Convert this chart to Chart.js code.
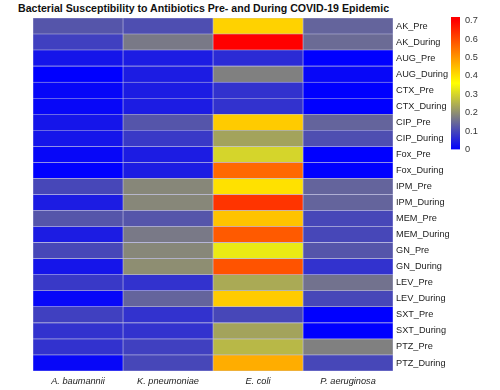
<!DOCTYPE html>
<html>
<head>
<meta charset="utf-8">
<script src="https://cdn.jsdelivr.net/npm/chart.js@4/dist/chart.umd.min.js"></script>
<style>
  html, body { margin: 0; padding: 0; background: #fff; }
  #wrap { position: relative; width: 500px; height: 390px; overflow: hidden; }
  #title { position: absolute; left: 18px; top: 2px; font: bold 10.6px 'Liberation Sans', Arial, sans-serif; color: #111; white-space: nowrap; }
  #heat { position: absolute; left: 0; top: 0; }
  #scale { position: absolute; left: 440px; top: 0; }
</style>
</head>
<body>
<div id="wrap">
  <div id="title">Bacterial Susceptibility to Antibiotics Pre- and During COVID-19 Epidemic</div>
  <canvas id="heat" width="500" height="390"></canvas>
  <canvas id="scale" width="60" height="160"></canvas>
</div>
<script>
// rows, top to bottom
const rowLabels = ['AK_Pre', 'AK_During', 'AUG_Pre', 'AUG_During', 'CTX_Pre', 'CTX_During', 'CIP_Pre', 'CIP_During',
  'Fox_Pre', 'Fox_During', 'IPM_Pre', 'IPM_During', 'MEM_Pre', 'MEM_During', 'GN_Pre', 'GN_During',
  'LEV_Pre', 'LEV_During', 'SXT_Pre', 'SXT_During', 'PTZ_Pre', 'PTZ_During'];
const speciesLabels = ['A. baumannii', 'K. pneumoniae', 'E. coli', 'P. aeruginosa'];

const baumannii  = [0.12, 0.09, 0.03, 0.00, 0.01, 0.01, 0.03, 0.03, 0.01, 0.00, 0.10, 0.04, 0.12, 0.04, 0.10, 0.03, 0.08, 0.01, 0.09, 0.07, 0.07, 0.01];
const pneumoniae = [0.11, 0.17, 0.04, 0.04, 0.04, 0.04, 0.12, 0.08, 0.04, 0.04, 0.19, 0.19, 0.12, 0.17, 0.19, 0.20, 0.07, 0.14, 0.07, 0.07, 0.09, 0.10];
const ecoli      = [0.42, 0.70, 0.06, 0.18, 0.07, 0.07, 0.43, 0.23, 0.30, 0.56, 0.40, 0.63, 0.44, 0.58, 0.33, 0.59, 0.24, 0.43, 0.10, 0.23, 0.26, 0.47];
const aeruginosa = [0.14, 0.15, 0.00, 0.01, 0.00, 0.00, 0.14, 0.11, 0.00, 0.00, 0.14, 0.14, 0.10, 0.10, 0.12, 0.07, 0.16, 0.10, 0.00, 0.00, 0.18, 0.10];

const colorTicks = [0, 0.1, 0.2, 0.3, 0.4, 0.5, 0.6, 0.7];
const colorMax = 0.72;

// blue -> gray -> yellow -> red
const ramp = [
  { v: 0.00, c: [0, 0, 255] },
  { v: 0.18, c: [128, 128, 128] },
  { v: 0.36, c: [255, 255, 0] },
  { v: 0.70, c: [255, 0, 0] },
];

function colorFor(v) {
  if (v <= ramp[0].v) return `rgb(${ramp[0].c})`;
  for (let i = 1; i < ramp.length; i++) {
    if (v <= ramp[i].v) {
      const a = ramp[i - 1], b = ramp[i];
      const t = (v - a.v) / (b.v - a.v);
      const c = a.c.map((x, k) => Math.round(x + (b.c[k] - x) * t));
      return `rgb(${c})`;
    }
  }
  return `rgb(${ramp[ramp.length - 1].c})`;
}

const labelFont = { family: "'Liberation Sans', Arial, sans-serif", size: 9.2 };

const columns = [baumannii, pneumoniae, ecoli, aeruginosa];

new Chart(document.getElementById('heat'), {
  type: 'bar',
  data: {
    labels: rowLabels,
    datasets: columns.map((vals, c) => ({
      label: speciesLabels[c],
      data: vals.map(() => [c, c + 1]),
      backgroundColor: vals.map(colorFor),
      borderColor: 'rgba(190, 190, 225, 0.95)',
      borderWidth: 0.6,
      borderSkipped: false,
      grouped: false,
      barPercentage: 1,
      categoryPercentage: 1,
    }))
  },
  options: {
    indexAxis: 'y',
    responsive: false,
    animation: false,
    events: [],
    layout: { padding: { left: 33, top: 18, right: 0, bottom: 0 } },
    plugins: { legend: { display: false }, tooltip: { enabled: false } },
    scales: {
      y: {
        position: 'right',
        grid: { display: false, drawTicks: false },
        border: { display: false },
        ticks: { color: '#222', font: labelFont, padding: 3 },
        afterFit: s => { s.width = 107; },
      },
      x: {
        type: 'linear', min: 0, max: 4,
        grid: { display: false, drawTicks: false },
        border: { display: false },
        afterBuildTicks: s => { s.ticks = speciesLabels.map((_, i) => ({ value: i + 0.5 })); },
        ticks: { color: '#222', font: { ...labelFont, style: 'italic' }, padding: 5, autoSkip: false, maxRotation: 0, callback: (v, i) => speciesLabels[i] },
        afterFit: s => { s.height = 19; },
      }
    }
  }
});

// colour key
new Chart(document.getElementById('scale'), {
  type: 'bar',
  data: {
    labels: [''],
    datasets: [{
      data: [[0, colorMax]],
      backgroundColor: ctx => {
        const chart = ctx.chart;
        if (!chart.chartArea) return 'blue';
        const y = chart.scales.y;
        const y0 = y.getPixelForValue(0), y1 = y.getPixelForValue(0.7);
        const g = chart.ctx.createLinearGradient(0, y0, 0, y1);
        ramp.forEach(s => g.addColorStop(s.v / 0.7, `rgb(${s.c})`));
        return g;
      },
      borderWidth: 0,
      barPercentage: 1,
      categoryPercentage: 1,
    }]
  },
  options: {
    responsive: false,
    animation: false,
    events: [],
    layout: { padding: { left: 11, top: 17, right: 0, bottom: 8 } },
    plugins: { legend: { display: false }, tooltip: { enabled: false } },
    scales: {
      x: { display: false },
      y: {
        position: 'right', min: 0, max: colorMax,
        grid: { display: false, drawTicks: false },
        border: { display: false },
        afterBuildTicks: s => { s.ticks = colorTicks.map(v => ({ value: v })); },
        ticks: { color: '#333', font: labelFont, padding: 5, callback: v => String(v) },
        afterFit: s => { s.width = 40; },
      }
    }
  }
});
</script>
</body>
</html>
